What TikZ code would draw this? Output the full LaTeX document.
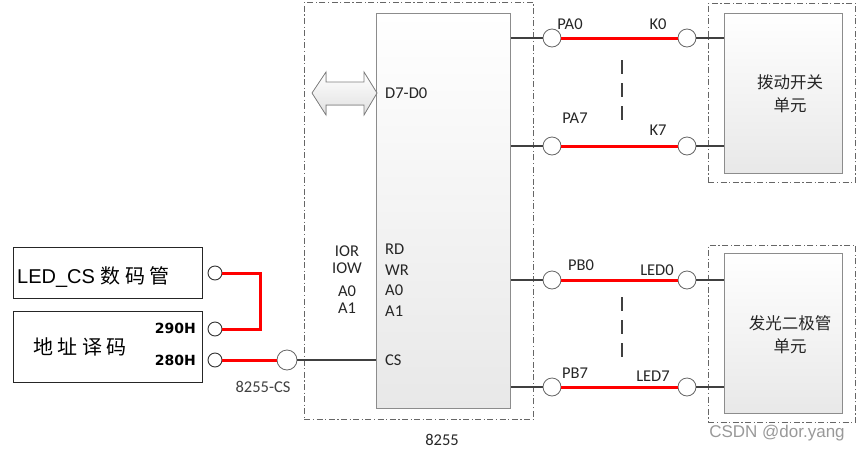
\documentclass[tikz,border=0pt]{standalone}
\usepackage{fontspec}
\setmainfont{Carlito}
\newfontfamily\arialf{Liberation Sans}
\newfontfamily\dejab{DejaVu Sans}
\newfontfamily\cjk{Noto Sans CJK SC}
\begin{document}
\begin{tikzpicture}[x=1pt,y=-1pt,
  grp/.style={draw=black!60, line width=0.8pt, dash pattern=on 6pt off 2.5pt on 1.2pt off 2.5pt},
  chip/.style={draw=black!45, line width=0.9pt, top color=white, bottom color=black!9, inner sep=0pt},
  plainbox/.style={draw=black!85, line width=0.9pt, fill=white, inner sep=0pt},
  port/.style={circle, draw=black!60, fill=white, minimum size=18pt, inner sep=0pt, line width=0.8pt},
  sport/.style={circle, draw=black!80, fill=white, minimum size=14pt, inner sep=0pt, line width=0.9pt},
  wire/.style={draw=black!75, line width=1.2pt},
  redwire/.style={draw=red, line width=3pt},
  dots/.style={draw=black!75, line width=1.2pt, dash pattern=on 14pt off 9pt},
  lbl/.style={font=\fontsize{16.5}{17}\selectfont, inner sep=0pt, text=black!85},
  cn/.style={font=\cjk\fontsize{16.5}{18}\selectfont, inner sep=0pt, text=black!85},
]
\useasboundingbox (0,0) rectangle (865,453);

% 8255 group box and chip
\node[grp, minimum width=229pt, minimum height=417pt, anchor=north west] (g8255) at (304,2) {};
\node[chip, minimum width=134pt, minimum height=395pt, anchor=north west] (chip) at (376,13) {};
\node[lbl] (t8255) at (442,440) {8255};

% data bus double arrow
\filldraw[draw=black!50, line width=0.8pt, top color=white, bottom color=black!12]
  (312,93) -- (326,72) -- (326,82) -- (364,82) -- (364,72) -- (377,93)
  -- (364,115) -- (364,105) -- (326,105) -- (326,115) -- cycle;
\node[lbl, anchor=west] (d70) at (385,93) {D7-D0};

% chip pin labels
\node[lbl, anchor=north west, align=left] (rdwr) at (385,244) {RD\\[3.5pt]WR\\[3.5pt]A0\\[3.5pt]A1};
\node[lbl, anchor=north, align=center] (iorw) at (347,246) {IOR\\IOW\\[6pt]A0\\A1};
\node[lbl, anchor=west] (cslbl) at (385,360) {CS};

% switch unit
\node[grp, minimum width=147pt, minimum height=179pt, anchor=north west] (gsw) at (708,3) {};
\node[chip, minimum width=118pt, minimum height=160pt, anchor=north west] (sw) at (724,13) {};
\node[cn] (swt1) at (790,82) {拨动开关};
\node[cn] (swt2) at (790,105) {单元};

% LED unit
\node[grp, minimum width=147pt, minimum height=177pt, anchor=north west] (gled) at (708,245) {};
\node[chip, minimum width=118pt, minimum height=160pt, anchor=north west] (led) at (724,253) {};
\node[cn] (ledt1) at (790,323) {发光二极管};
\node[cn] (ledt2) at (790,346) {单元};

% ports
\node[port] (pa0) at (552,38) {};
\node[port] (k0) at (687,38) {};
\node[port] (pa7) at (552,146) {};
\node[port] (k7) at (687,146) {};
\node[port] (pb0) at (552,280) {};
\node[port] (led0) at (687,280) {};
\node[port] (pb7) at (552,387) {};
\node[port] (led7) at (687,387) {};

\node[lbl] at (570,24) {PA0};
\node[lbl] at (658,24) {K0};
\node[lbl] at (575,118) {PA7};
\node[lbl] at (658,130) {K7};
\node[lbl] at (581,265) {PB0};
\node[lbl] at (657,270) {LED0};
\node[lbl] at (575,373) {PB7};
\node[lbl] at (653,376) {LED7};

\foreach \p/\q/\u in {pa0/k0/sw, pa7/k7/sw, pb0/led0/led, pb7/led7/led}{
  \draw[wire] (chip.east |- \p) -- (\p);
  \draw[wire] (\q) -- (\u.west |- \q);
  \draw[redwire] (\p.east) -- (\q.west);
}

\coordinate (da1) at (622,60);
\coordinate (da2) at (622,120);
\coordinate (db1) at (622,297);
\coordinate (db2) at (622,357);
\draw[dots] (da1) -- (da2);
\draw[dots] (db1) -- (db2);

% left side
\node[plainbox, minimum width=189pt, minimum height=51pt, anchor=north west] (ledcsbox) at (13,247) {};
\node[plainbox, minimum width=189pt, minimum height=71pt, anchor=north west] (decbox) at (13,311) {};
\node[anchor=west, inner sep=0pt, font=\arialf\fontsize{20}{22}\selectfont] (ledcst) at (17,277) {LED\_CS {\cjk 数 码 管}};
\node[inner sep=0pt, font=\cjk\fontsize{20}{22}\selectfont] (dect) at (80,347) {地 址 译 码};
\node[anchor=east, inner sep=0pt, font=\dejab\bfseries\fontsize{14}{16}\selectfont] (t290) at (196,328) {290H};
\node[anchor=east, inner sep=0pt, font=\dejab\bfseries\fontsize{14}{16}\selectfont] (t280) at (196,360) {280H};

\node[sport] (cled) at (215,273) {};
\node[sport] (c290) at (215,329) {};
\node[sport] (c280) at (215,360) {};
\node[port, minimum size=20pt] (c8255) at (287,360) {};
\node[lbl, text=black!75] (t8255cs) at (263,387) {8255-CS};

\coordinate (bend1) at (260,273);
\coordinate (bend2) at (260,329);
\draw[redwire] (cled.east) -- (bend1) -- (bend2) -- (c290.east);
\draw[redwire] (c280.east) -- (c8255.west);
\draw[wire] (c8255.east) -- (chip.west |- c8255);

% watermark
\node[inner sep=0pt, font=\arialf\fontsize{17}{18}\selectfont, text=black!40] (wm) at (777,433) {CSDN @dor.yang};
\end{tikzpicture}
\end{document}
